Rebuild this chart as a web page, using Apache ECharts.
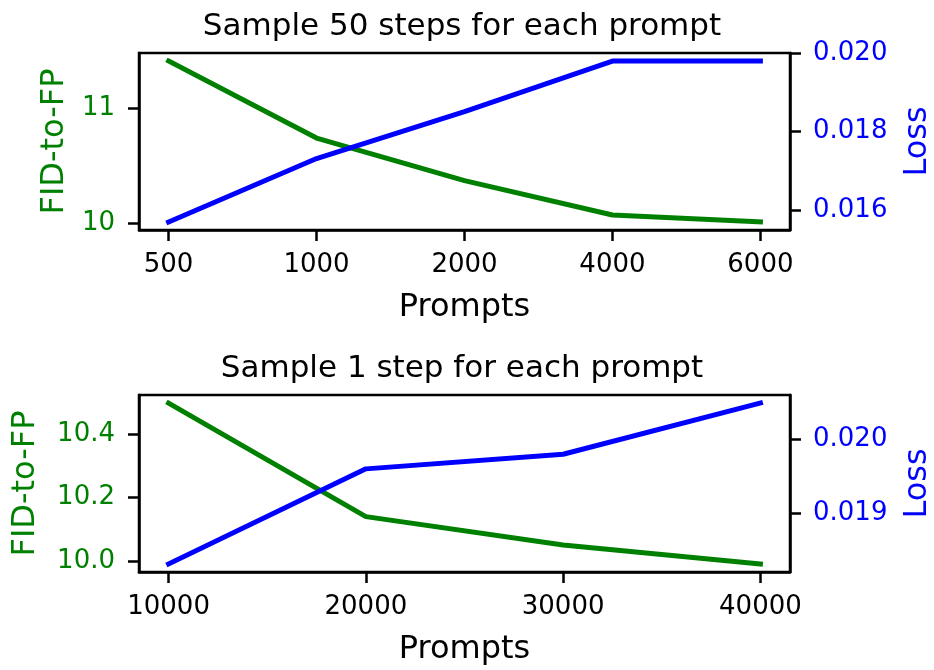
<!DOCTYPE html>
<html><head><meta charset="utf-8">
<script src="https://cdn.jsdelivr.net/npm/echarts@6/dist/echarts.min.js"></script>
<style>html,body{margin:0;padding:0;background:#fff}#c{width:934px;height:670px}</style>
</head><body><div id="c"></div>
<script>
// Top panel: Sample 50 steps
const topPrompts = ['500', '1000', '2000', '4000', '6000'];
const topFID = [11.41, 10.74, 10.37, 10.07, 10.01];
const topLoss = [0.01569, 0.01731, 0.01851, 0.01980, 0.01980];
const topFIDTicks = [10, 11];
const topLossTicks = [0.016, 0.018, 0.020];
// Bottom panel: Sample 1 step
const botPrompts = [10000, 20000, 30000, 40000];
const botFID = [10.50, 10.14, 10.05, 9.99];
const botLoss = [0.01830, 0.01960, 0.01980, 0.02050];
const botFIDTicks = [10.0, 10.2, 10.4];
const botLossTicks = [0.019, 0.020];

const GREEN = '#008000', BLUE = '#0000ff';
const FONT = 'DejaVu Sans';
const TICK = 26, LAB = 32, TTL = 31;

function pad(arr, f) {
  const lo = Math.min(...arr), hi = Math.max(...arr), m = (hi - lo) * 0.05;
  return f === 'min' ? lo - m : hi + m;
}

const chart = echarts.init(document.getElementById('c'), null, {renderer: 'canvas'});

const axLine = {show: true, onZero: false, lineStyle: {color: '#000', width: 2.5}};
const tickStyle = {color: '#000', width: 2.5};

function xAx(grid, min, max, ticks, fmt) {
  return {
    type: 'value', gridIndex: grid, min, max,
    axisLine: axLine,
    axisTick: {show: true, inside: false, length: 11, customValues: ticks, lineStyle: tickStyle},
    axisLabel: {customValues: ticks, formatter: fmt, color: '#000', fontFamily: FONT, fontSize: TICK, margin: 22},
    splitLine: {show: false},
    name: 'Prompts', nameLocation: 'middle', nameGap: 62,
    nameTextStyle: {color: '#000', fontFamily: FONT, fontSize: LAB}
  };
}
function yAx(grid, pos, min, max, ticks, dec, color, name, gap, margin) {
  return {
    type: 'value', gridIndex: grid, position: pos, min, max,
    axisLine: axLine,
    axisTick: {show: true, inside: false, length: 11, customValues: ticks, lineStyle: tickStyle},
    axisLabel: {customValues: ticks, formatter: v => Number(v).toFixed(dec), color, fontFamily: FONT, fontSize: TICK, margin},
    splitLine: {show: false},
    name, nameLocation: 'middle', nameGap: gap, nameRotate: 90,
    nameTextStyle: {color, fontFamily: FONT, fontSize: LAB}
  };
}

const topIdx = topPrompts.map((_, i) => i);
const option = {
  animation: false,
  backgroundColor: '#fff',
  title: [
    {text: 'Sample 50 steps for each prompt', left: 457, top: 6, textAlign: 'center',
     textStyle: {fontFamily: FONT, fontSize: TTL, fontWeight: 'normal', color: '#000'}},
    {text: 'Sample 1 step for each prompt', left: 457, top: 348, textAlign: 'center',
     textStyle: {fontFamily: FONT, fontSize: TTL, fontWeight: 'normal', color: '#000'}}
  ],
  grid: [
    {left: 139, top: 53, width: 651, height: 177, show: true, borderColor: '#000', borderWidth: 2.5, backgroundColor: 'transparent', outerBoundsMode: 'none', containLabel: false},
    {left: 139, top: 395, width: 651, height: 177, show: true, borderColor: '#000', borderWidth: 2.5, backgroundColor: 'transparent', outerBoundsMode: 'none', containLabel: false}
  ],
  xAxis: [
    xAx(0, -0.2, 4.2, topIdx, v => topPrompts[Math.round(v)]),
    xAx(1, pad(botPrompts, 'min'), pad(botPrompts, 'max'), botPrompts, v => String(v))
  ],
  yAxis: [
    yAx(0, 'left', pad(topFID, 'min'), pad(topFID, 'max'), topFIDTicks, 0, GREEN, 'FID-to-FP', 64, 24),
    yAx(0, 'right', pad(topLoss, 'min'), pad(topLoss, 'max'), topLossTicks, 3, BLUE, 'Loss', 112, 23),
    yAx(1, 'left', pad(botFID, 'min'), pad(botFID, 'max'), botFIDTicks, 1, GREEN, 'FID-to-FP', 97, 24),
    yAx(1, 'right', pad(botLoss, 'min'), pad(botLoss, 'max'), botLossTicks, 3, BLUE, 'Loss', 112, 23)
  ],
  series: [
    {type: 'line', xAxisIndex: 0, yAxisIndex: 0, data: topIdx.map(i => [i, topFID[i]]), showSymbol: false, lineStyle: {color: GREEN, width: 5, cap: 'square'}, z: 2},
    {type: 'line', xAxisIndex: 0, yAxisIndex: 1, data: topIdx.map(i => [i, topLoss[i]]), showSymbol: false, lineStyle: {color: BLUE, width: 5, cap: 'square'}, z: 3},
    {type: 'line', xAxisIndex: 1, yAxisIndex: 2, data: botPrompts.map((p, i) => [p, botFID[i]]), showSymbol: false, lineStyle: {color: GREEN, width: 5, cap: 'square'}, z: 2},
    {type: 'line', xAxisIndex: 1, yAxisIndex: 3, data: botPrompts.map((p, i) => [p, botLoss[i]]), showSymbol: false, lineStyle: {color: BLUE, width: 5, cap: 'square'}, z: 3}
  ]
};
chart.setOption(option);
</script></body></html>
